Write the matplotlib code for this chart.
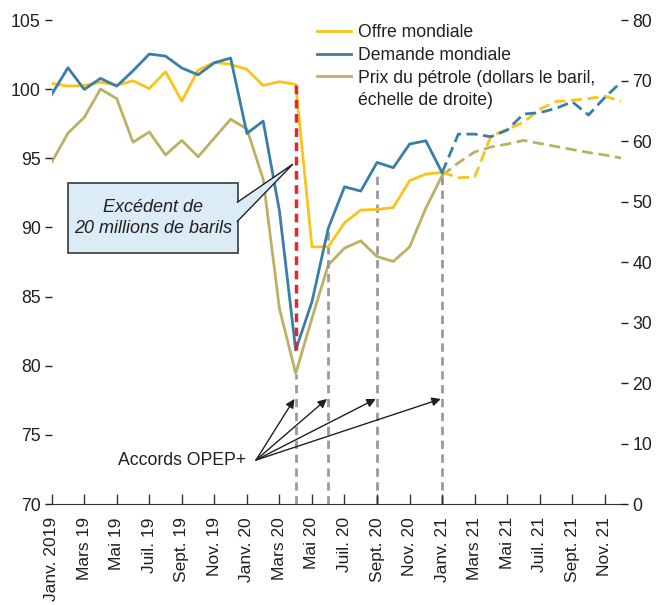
import matplotlib.pyplot as plt
from matplotlib.lines import Line2D
from matplotlib.patches import Rectangle, Polygon

plt.rcParams['font.family'] = ['Liberation Sans', 'DejaVu Sans']

# months since Jan 2019
months = list(range(36))
tick_pos = list(range(0, 36, 2))
tick_labels = ["Janv. 2019", "Mars 19", "Mai 19", "Juil. 19", "Sept. 19", "Nov. 19",
               "Janv. 20", "Mars 20", "Mai 20", "Juil. 20", "Sept. 20", "Nov. 20",
               "Janv. 21", "Mars 21", "Mai 21", "Juil. 21", "Sept. 21", "Nov. 21"]

offre = [100.42, 100.22, 100.27, 100.5, 100.3, 100.6, 100.05, 101.26, 99.14, 101.38,
         101.94, 101.8, 101.43, 100.27, 100.54, 100.35, 88.6, 88.6, 90.34, 91.26,
         91.3, 91.45, 93.38, 93.86, 93.98, 93.6, 93.64, 96.6, 97.1, 97.6,
         98.55, 99.1, 99.2, 99.32, 99.5, 99.12]
demande = [99.62, 101.55, 99.98, 100.78, 100.22, 101.33, 102.54, 102.39, 101.53, 101.04,
           101.91, 102.25, 96.8, 97.69, 91.2, 81.14, 84.63, 89.93, 92.94, 92.63,
           94.7, 94.32, 96.03, 96.27, 93.96, 96.75, 96.75, 96.56, 97.04, 98.2,
           98.3, 98.61, 99.09, 98.13, 99.4, 100.5]
prix = [56.5, 61.3, 63.9, 68.6, 67.0, 59.8, 61.5, 57.7, 60.1, 57.4,
        60.5, 63.6, 62.0, 53.7, 32.3, 21.6, 30.7, 39.5, 42.3, 43.5,
        40.9, 40.1, 42.5, 48.9, 54.3, 56.4, 58.2, 59.0, 59.5, 60.1,
        59.6, 59.1, 58.6, 58.1, 57.7, 57.2]

last_actual = 24   # Janv. 21, forecasts after
opep_months = [15, 17, 20, 24]
opep_tops = [79.4, 89.9, 94.0, 94.0]
surplus_month = 15

c_offre = "#fbc31a"
c_dem = "#3a7ea6"
c_prix = "#bab163"
c_txt = "#231f20"
c_box = "#dbecf7"

fig = plt.figure(figsize=(6.56, 6.05), dpi=100)
ax = fig.add_axes([0.0788, 0.1669, 0.8679, 0.8])
ax2 = ax.twinx()
ax.set_zorder(ax2.get_zorder() + 1)
ax.patch.set_visible(False)

# price on right axis
ax2.plot(months[:last_actual + 1], prix[:last_actual + 1], color=c_prix, lw=2)
ax2.plot(months[last_actual:], prix[last_actual:], color=c_prix, lw=2, ls=(0, (4, 2)))

# OPEC+ agreement markers
ax.vlines(opep_months, 70, opep_tops, colors="#9a9a9a", lw=2, linestyles=(0, (3, 2)), zorder=1)

ax.plot(months[:last_actual + 1], offre[:last_actual + 1], color=c_offre, lw=2, zorder=3)
ax.plot(months[last_actual:], offre[last_actual:], color=c_offre, lw=2, ls=(0, (4, 2)), zorder=3)
ax.plot(months[:last_actual + 1], demande[:last_actual + 1], color=c_dem, lw=2, zorder=4)
ax.plot(months[last_actual:], demande[last_actual:], color=c_dem, lw=2, ls=(0, (4, 2)), zorder=4)

# surplus
ax.vlines(surplus_month, demande[surplus_month], offre[surplus_month], colors="#e8262a",
          lw=2.5, linestyles=(0, (2.5, 1.6)), zorder=5)

ax.set_xlim(0, 35)
ax.set_ylim(70, 105)
ax.set_yticks(range(70, 106, 5))
ax2.set_ylim(0, 80)
ax2.set_yticks(range(0, 81, 10))
ax.set_xticks(tick_pos)
ax.set_xticklabels(tick_labels, rotation=90, fontsize=12.5, color=c_txt)

for s in ["top", "left", "right"]:
    ax.spines[s].set_visible(False)
for s in ax2.spines.values():
    s.set_visible(False)
ax.spines["bottom"].set_color("#333333")

ax.tick_params(axis="y", direction="out", length=5, width=1, pad=3, labelsize=12.7,
               colors=c_txt)
ax2.tick_params(axis="y", direction="out", length=5, width=1, pad=3, labelsize=12.7,
                colors=c_txt)
ax.tick_params(axis="x", direction="in", length=7, width=1, pad=9.5, color="#333333")

# callout box with pointer
ax.add_patch(Rectangle((1.0, 88.15), 10.45, 5.06, fc=c_box, ec="#3a3a3a", lw=1.2, zorder=6))
ax.add_patch(Polygon([(11.38, 91.8), (14.83, 94.58), (11.38, 90.4)], closed=False,
                     fc=c_box, ec=c_txt, lw=1, zorder=7))
ax.text(6.23, 90.68, "Excédent de\n20 millions de barils", ha="center", va="center",
        fontsize=13, style="italic", color=c_txt, linespacing=1.3, zorder=8)

# OPEC+ arrows
ax.text(11.94, 73.18, "Accords OPEP+", ha="right", va="center", fontsize=12.7, color=c_txt)
for m in opep_months:
    ax.annotate("", xy=(m - 0.08, 77.6), xytext=(12.56, 73.18), zorder=6,
                arrowprops=dict(arrowstyle="-|>", color=c_txt, lw=1, shrinkA=0, shrinkB=0,
                                mutation_scale=13))

handles = [Line2D([], [], color=c_offre, lw=2),
           Line2D([], [], color=c_dem, lw=2),
           Line2D([], [], color=c_prix, lw=2),
           Line2D([], [], color="none")]
labels = ["Offre mondiale", "Demande mondiale", "Prix du pétrole (dollars le baril,",
          "échelle de droite)"]
ax.legend(handles, labels, loc="upper left", bbox_to_anchor=(0.466, 0.992), frameon=False,
          borderaxespad=0, borderpad=0, handlelength=1.95, handletextpad=0.4,
          labelspacing=0.33, fontsize=12.7, labelcolor=c_txt)

fig.savefig("out.png", dpi=100)
